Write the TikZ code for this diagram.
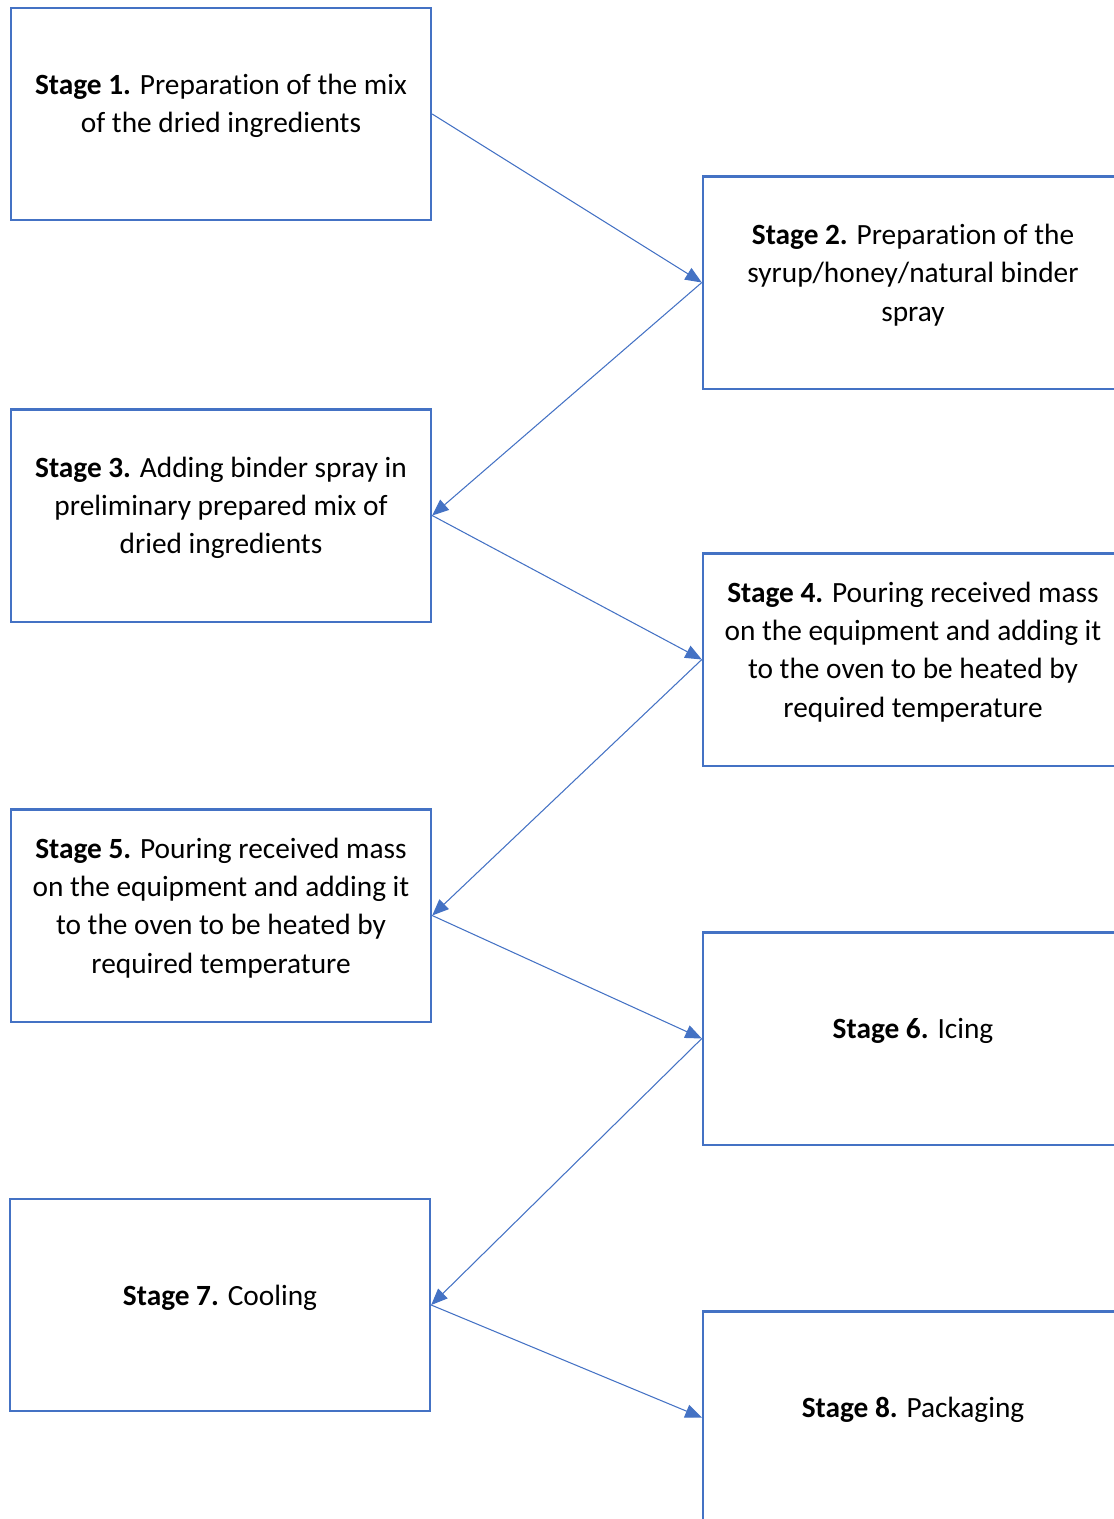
\documentclass[tikz,border=0pt]{standalone}
\usepackage{fontspec}
\setmainfont[Ligatures=CommonOff]{Carlito}
\usetikzlibrary{positioning,arrows.meta}
\definecolor{wordblue}{HTML}{4472C4}

\begin{document}
\begin{tikzpicture}[x=0.02cm, y=-0.02cm,
    stagebox/.style={draw=wordblue, line width=1.4pt, minimum width=8.4cm, minimum height=4.25cm},
    stagetext/.style={align=center, font=\fontsize{16.7}{21.8}\selectfont},
    flow/.style={draw=wordblue, line width=0.6pt, -{Triangle[length=3.3mm,width=2.7mm]}}]
    \clip (0,0) rectangle (1114,1519);

    % Boxes
    \node[stagebox] (stage1) at (221,114) {};
    \node[stagebox] (stage2) at (913,282.5) {};
    \node[stagebox] (stage3) at (221,515.5) {};
    \node[stagebox] (stage4) at (913,659.5) {};
    \node[stagebox] (stage5) at (221,915.5) {};
    \node[stagebox] (stage6) at (913,1038.5) {};
    \node[stagebox] (stage7) at (220,1305) {};
    \node[stagebox] (stage8) at (913,1417.5) {};

    % Texts
    \node[stagetext] (text1) at (221,106) {\textbf{Stage 1.} Preparation of the mix\\of the dried ingredients};
    \node[stagetext] (text2) at (913,275) {\textbf{Stage 2.} Preparation of the\\syrup/honey/natural binder\\spray};
    \node[stagetext] (text3) at (221,508) {\textbf{Stage 3.} Adding binder spray in\\preliminary prepared mix of\\dried ingredients};
    \node[stagetext] (text4) at (913,652) {\textbf{Stage 4.} Pouring received mass\\on the equipment and adding it\\to the oven to be heated by\\required temperature};
    \node[stagetext] (text5) at (221,908) {\textbf{Stage 5.} Pouring received mass\\on the equipment and adding it\\to the oven to be heated by\\required temperature};
    \node[stagetext] (text6) at (913,1031) {\textbf{Stage 6.} Icing};
    \node[stagetext] (text7) at (220,1298) {\textbf{Stage 7.} Cooling};
    \node[stagetext] (text8) at (913,1410) {\textbf{Stage 8.} Packaging};

    % Arrows
    \draw[flow] (stage1.east) -- (stage2.west);
    \draw[flow] (stage2.west) -- (stage3.east);
    \draw[flow] (stage3.east) -- (stage4.west);
    \draw[flow] (stage4.west) -- (stage5.east);
    \draw[flow] (stage5.east) -- (stage6.west);
    \draw[flow] (stage6.west) -- (stage7.east);
    \draw[flow] (stage7.east) -- (stage8.west);
\end{tikzpicture}
\end{document}
